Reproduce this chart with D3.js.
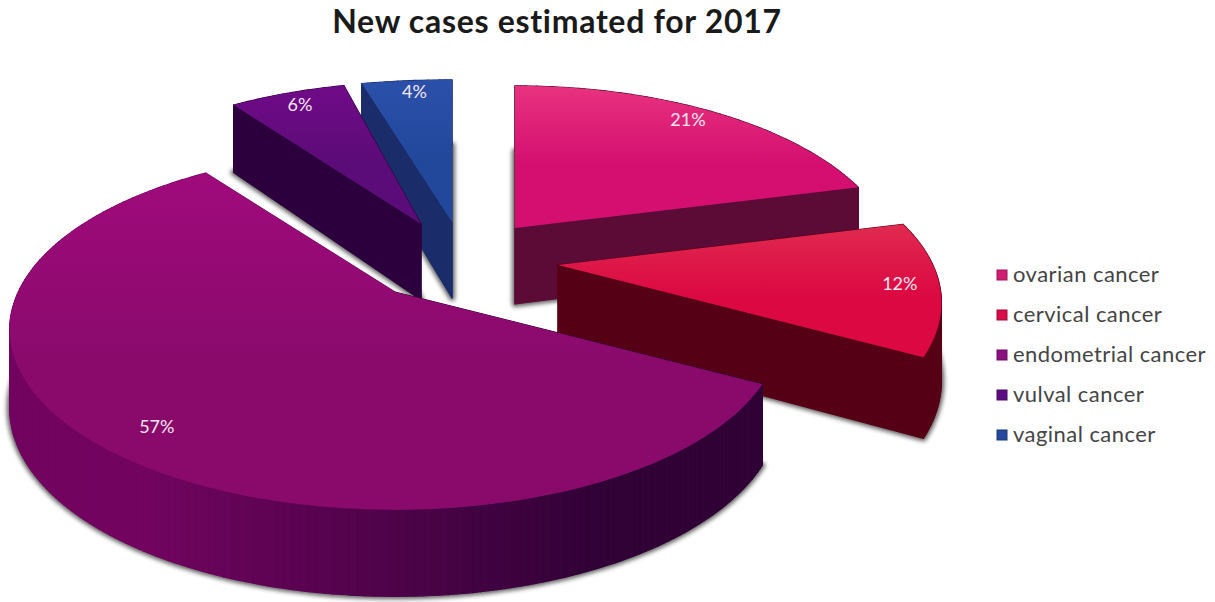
<!DOCTYPE html>
<html>
<head>
<meta charset="utf-8">
<title>New cases estimated for 2017</title>
<script src="https://cdn.jsdelivr.net/npm/d3@7/dist/d3.min.js"></script>
<style>
  html, body { margin: 0; padding: 0; background: #fff; }
  svg { display: block; }
  text { font-family: Lato, "Open Sans", sans-serif; }
</style>
</head>
<body>
<svg id="chart" width="1215" height="602"></svg>
<script>
// Chart content
const chartTitle = "New cases estimated for 2017";
const categories = ["ovarian cancer", "cervical cancer", "endometrial cancer", "vulval cancer", "vaginal cancer"];
const shares = [21, 12, 57, 6, 4];

// Colours per category: top face gradient, wall shading from left to right, legend swatch
const topLight = ["#e8327f", "#e02a50", "#a00a7c", "#700a88", "#2b50aa"];
const topDark = ["#d40f70", "#dc0842", "#8a0a6c", "#5c0c78", "#22489c"];
const wallLeft = ["#5c0a36", "#5e0018", "#720460", "#300040", "#1c3074"];
const wallRight = ["#5c0a36", "#560016", "#300236", "#2c003c", "#1a2c6a"];
const swatch = ["#d01c72", "#d80c48", "#8c1080", "#5c0c80", "#24489c"];

// Where each exploded wedge has its apex, and how it is laid out
const apexX = [515, 558, 395, 421, 452];
const apexY = [228, 265, 292, 224, 222];
const widen = [1, 1.005, 1.01, 1, 1.17];
const labelReach = [0.9, 0.9, 0.84, 0.9, 0.9];
const labelNudgeX = [-6, -1, 3, 1, 4];
const labelNudgeY = [-2, -1, 10, 0, -1];
const drawOrder = [4, 3, 0, 1, 2];

// Disc projection: a tilted circle seen in perspective
const radiusX = 373;
const radiusY = 172;
const perspective = 0.21;
const thickness = 76;
const thicknessGrowth = 0.14;

function project(i, angle, reach, lowered) {
  const u = Math.sin(angle) * reach;
  const v = -Math.cos(angle) * reach;
  const s = 1 / (1 - perspective * v);
  const drop = lowered ? thickness * (1 + thicknessGrowth * v) : 0;
  return [
    apexX[i] + radiusX * u * s * widen[i],
    apexY[i] + radiusY * v * s + drop
  ];
}

const svg = d3.select("#chart");
const defs = svg.append("defs");

const blur = defs.append("filter")
  .attr("id", "soft-shadow")
  .attr("x", "-10%").attr("y", "-10%")
  .attr("width", "120%").attr("height", "120%");
blur.append("feGaussianBlur").attr("stdDeviation", 2);

categories.forEach((_, i) => {
  const g = defs.append("linearGradient")
    .attr("id", "top-" + i)
    .attr("x1", 0).attr("y1", 0).attr("x2", 0).attr("y2", 1);
  g.append("stop").attr("offset", "0%").attr("stop-color", topLight[i]);
  g.append("stop").attr("offset", "55%").attr("stop-color", topDark[i]);
  g.append("stop").attr("offset", "100%").attr("stop-color", topDark[i]);
});

const pie = d3.pie().sort(null).value(d => d);
const arcs = pie(shares);
const closedLine = d3.line().curve(d3.curveLinearClosed);
const degree = Math.PI / 180;

function arcAngles(a) {
  const n = Math.max(2, Math.ceil((a.endAngle - a.startAngle) / degree));
  return d3.range(n + 1).map(k => a.startAngle + (a.endAngle - a.startAngle) * k / n);
}

function facePath(i, a, lowered) {
  const rim = arcAngles(a).map(t => project(i, t, 1, lowered));
  return closedLine([project(i, 0, 0, lowered), ...rim]);
}

const pies = svg.append("g").attr("class", "slices");

drawOrder.forEach(i => {
  const a = arcs[i];
  const slice = pies.append("g").attr("class", "slice");

  // Soft shadow cast by the underside of the wedge
  slice.append("path")
    .attr("d", facePath(i, a, true))
    .attr("fill", "#2a2a2a")
    .attr("stroke", "#2a2a2a")
    .attr("stroke-width", 6)
    .attr("stroke-linejoin", "round")
    .attr("opacity", 0.72)
    .attr("filter", "url(#soft-shadow)");

  // Side walls, painted from the back of the disc to the front
  const shade = d3.scaleLinear()
    .domain([-0.55, 0.45])
    .range([wallLeft[i], wallRight[i]])
    .clamp(true);

  const walls = [];
  const angles = arcAngles(a);
  d3.pairs(angles).forEach(([t0, t1]) => {
    const mid = (t0 + t1) / 2;
    walls.push({
      depth: -Math.cos(mid),
      color: shade(Math.sin(mid)),
      pts: [project(i, t0, 1, false), project(i, t1, 1, false), project(i, t1, 1, true), project(i, t0, 1, true)]
    });
  });
  [a.startAngle, a.endAngle].forEach(t => {
    walls.push({
      depth: -Math.cos(t) * 0.5,
      color: shade(i === 2 && t === a.endAngle ? -1 : 0.45),
      pts: [project(i, t, 0, false), project(i, t, 1, false), project(i, t, 1, true), project(i, t, 0, true)]
    });
  });
  walls.sort((p, q) => p.depth - q.depth);

  slice.selectAll("path.wall")
    .data(walls)
    .join("path")
    .attr("class", "wall")
    .attr("d", d => closedLine(d.pts))
    .attr("fill", d => d.color)
    .attr("stroke", d => d.color)
    .attr("stroke-width", 1.2)
    .attr("stroke-linejoin", "round");

  // Top face
  slice.append("path")
    .attr("class", "top")
    .attr("d", facePath(i, a, false))
    .attr("fill", "url(#top-" + i + ")");
});

// Percentage labels, placed along each wedge's mid angle
svg.append("g").attr("class", "labels")
  .selectAll("text")
  .data(arcs)
  .join("text")
  .attr("x", (d, i) => project(i, (d.startAngle + d.endAngle) / 2, labelReach[i], false)[0] + labelNudgeX[i])
  .attr("y", (d, i) => project(i, (d.startAngle + d.endAngle) / 2, labelReach[i], false)[1] + labelNudgeY[i])
  .attr("dy", "0.36em")
  .attr("text-anchor", "middle")
  .attr("font-size", 18)
  .attr("fill", "#f6e6f2")
  .text(d => d.data + "%");

// Title
svg.append("text")
  .attr("x", 557)
  .attr("y", 33)
  .attr("text-anchor", "middle")
  .attr("font-size", 32)
  .attr("letter-spacing", 0.7)
  .attr("font-weight", 700)
  .attr("fill", "#1a1a1a")
  .text(chartTitle);

// Legend
const legendY = d3.scalePoint().domain(categories).range([275, 435]);
const legend = svg.append("g").attr("class", "legend");
const rows = legend.selectAll("g")
  .data(categories)
  .join("g")
  .attr("transform", d => `translate(997,${legendY(d)})`);

rows.append("rect")
  .attr("x", 0).attr("y", -5)
  .attr("width", 10).attr("height", 10)
  .attr("fill", (d, i) => swatch[i])
  .attr("stroke", (d, i) => d3.color(swatch[i]).darker(0.8))
  .attr("stroke-width", 1);

rows.append("text")
  .attr("x", 16)
  .attr("dy", "0.34em")
  .attr("font-size", 22)
  .attr("letter-spacing", 0.45)
  .attr("fill", "#444")
  .text(d => d);
</script>
</body>
</html>
